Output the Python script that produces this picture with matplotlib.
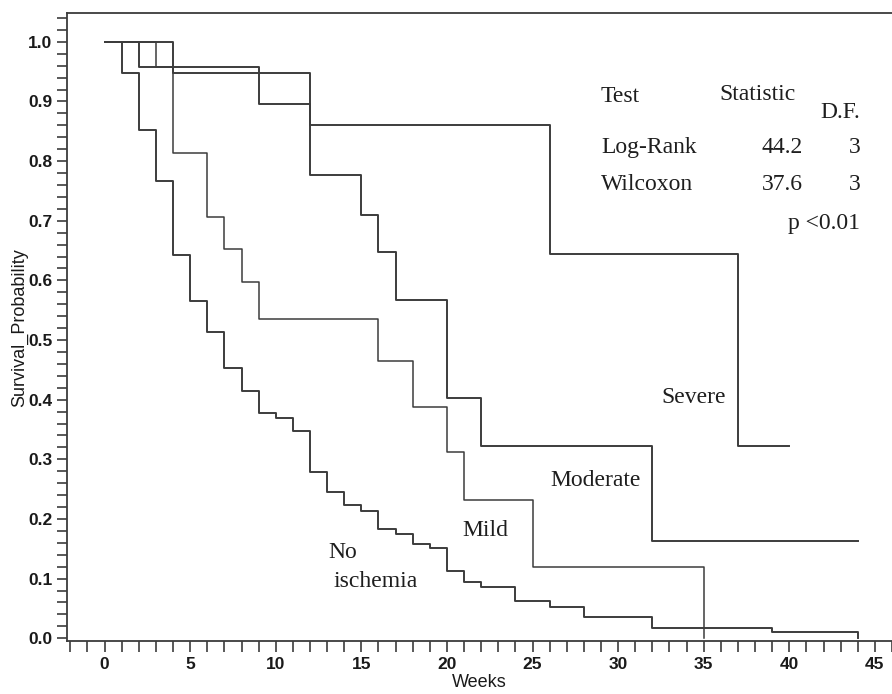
import numpy as np
import matplotlib
matplotlib.use("Agg")
import matplotlib.pyplot as plt
from matplotlib.ticker import MultipleLocator, FormatStrFormatter

# Kaplan-Meier step data (weeks, survival probability)
no_isch_t = [0, 1, 2, 3, 4, 5, 6, 7, 8, 9, 10, 11, 12, 13, 14, 15, 16, 17, 18, 19,
             20, 21, 22, 24, 26, 28, 32, 39, 44]
no_isch_s = [1.0, 0.947, 0.852, 0.767, 0.642, 0.566, 0.513, 0.453, 0.414, 0.378,
             0.370, 0.348, 0.278, 0.246, 0.223, 0.213, 0.183, 0.175, 0.158, 0.151,
             0.113, 0.095, 0.086, 0.062, 0.053, 0.036, 0.018, 0.010, 0.0]

mild_t = [0, 3, 4, 6, 7, 8, 9, 16, 18, 20, 21, 25, 35]
mild_s = [1.0, 0.957, 0.814, 0.706, 0.652, 0.597, 0.535, 0.465, 0.387, 0.312,
          0.232, 0.120, 0.0]

moderate_t = [0, 2, 9, 12, 15, 16, 17, 20, 22, 32, 44]
moderate_s = [1.0, 0.957, 0.896, 0.777, 0.710, 0.647, 0.567, 0.403, 0.323, 0.163, 0.163]

severe_t = [0, 4, 12, 26, 37, 40]
severe_s = [1.0, 0.947, 0.861, 0.645, 0.323, 0.323]

tests = ["Log-Rank", "Wilcoxon"]
stats = ["44.2", "37.6"]
dfs = ["3", "3"]

fig = plt.figure(figsize=(8.92, 6.94), dpi=100)
ax = fig.add_axes([0.075, 0.076, 0.925, 0.905])

lc = "#3c3c3c"
for t, s, lw in [(no_isch_t, no_isch_s, 1.4), (mild_t, mild_s, 1.1),
                 (moderate_t, moderate_s, 1.4), (severe_t, severe_s, 1.4)]:
    ax.step(t, s, where="post", color=lc, lw=lw)

ax.set_xlim(-2.2, 46)
ax.set_ylim(-0.005, 1.048)

ax.xaxis.set_major_locator(MultipleLocator(5))
ax.xaxis.set_minor_locator(MultipleLocator(1))
ax.yaxis.set_major_locator(MultipleLocator(0.1))
ax.yaxis.set_minor_locator(MultipleLocator(0.02))
ax.yaxis.set_major_formatter(FormatStrFormatter("%.1f"))
ax.tick_params(which="both", direction="out", color=lc, width=1.2)
ax.tick_params(axis="x", which="both", length=8)
ax.tick_params(axis="y", which="both", length=7)
ax.tick_params(labelsize=12.5, labelcolor="#1a1a1a")
for lab in ax.get_xticklabels() + ax.get_yticklabels():
    lab.set_family("Liberation Sans")
    lab.set_fontweight("bold")

ax.spines["right"].set_visible(False)
for sp in ["left", "bottom", "top"]:
    ax.spines[sp].set_color(lc)
    ax.spines[sp].set_linewidth(1.3)

ax.set_xlabel("Weeks", family="Liberation Sans", fontsize=13, labelpad=1,
              color="#1a1a1a")
ax.set_ylabel("Survival_Probability", family="Liberation Sans", fontsize=13,
              labelpad=0, color="#1a1a1a")

serif = dict(family="Liberation Serif", fontsize=17, color="#1e1e1e", va="center")
ax.text(29.0, 0.909, "Test", ha="left", **serif)
ax.text(35.9, 0.912, "Statistic", ha="left", **serif)
ax.text(44.15, 0.881, "D.F.", ha="right", **serif)
for i in range(2):
    y = 0.822 - i * 0.062
    ax.text(29.0, y, tests[i], ha="left", **serif)
    ax.text(40.8, y, stats[i], ha="right", **serif)
    ax.text(44.15, y, dfs[i], ha="right", **serif)
ax.text(44.15, 0.696, "p <0.01", ha="right", **serif)

ax.text(32.5, 0.403, "Severe", ha="left", **serif)
ax.text(26.05, 0.265, "Moderate", ha="left", **serif)
ax.text(20.9, 0.18, "Mild", ha="left", **serif)
ax.text(13.1, 0.143, "No", ha="left", **serif)
ax.text(13.35, 0.096, "ischemia", ha="left", **serif)

fig.savefig("out.png", dpi=100)
